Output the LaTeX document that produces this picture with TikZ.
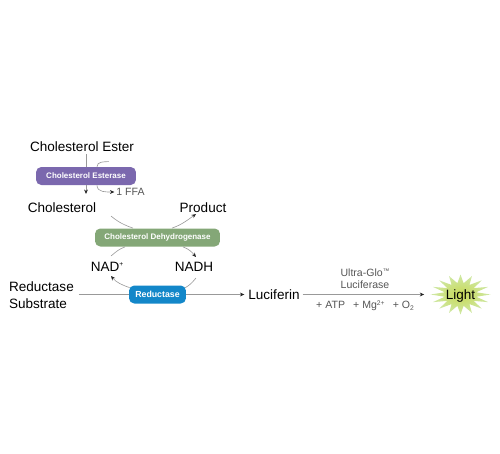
\documentclass[tikz,border=0pt]{standalone}
\usepackage{fontspec}
\setmainfont{Liberation Sans}
\usetikzlibrary{arrows.meta, positioning, calc}
\definecolor{esterasecol}{HTML}{7B68AE}
\definecolor{dehydrocol}{HTML}{84A777}
\definecolor{reductasecol}{HTML}{1387C9}
\definecolor{linecol}{HTML}{999999}
\definecolor{textgray}{HTML}{555555}
\definecolor{burstin}{HTML}{C8DA55}
\definecolor{burstout}{HTML}{CFE8A8}
\newcommand{\supr}[1]{\raisebox{0.62ex}{\fontsize{3.8}{4}\selectfont #1}}
\newcommand{\subr}[1]{\raisebox{-0.35ex}{\fontsize{3.8}{4}\selectfont #1}}
\begin{document}
\begin{tikzpicture}[
  x=0.02cm, y=-0.02cm,
  enzyme/.style={rounded corners=3pt, text=white, inner sep=0pt,
                 minimum height=0.36cm, font=\fontsize{4.55}{6}\selectfont\bfseries},
  chem/.style={font=\fontsize{7.7}{9.4}\selectfont, text=black, inner sep=1pt},
  cond/.style={font=\fontsize{6}{6.6}\selectfont, text=textgray, inner sep=1pt, align=center},
  arrow/.style={-{Stealth[length=2.5pt,width=2.2pt,color=black!85]}, linecol, line width=0.35pt},
  plain/.style={linecol, line width=0.35pt}
]
\useasboundingbox (0,0) rectangle (500,453);

% light burst
\shade[inner color=burstin, outer color=burstout, draw=none]
  plot[samples at={0,...,31}] ({460.5+(mod(\x,2)==0 ? 30 : 16)*cos(\x*11.25)},
                               {294.5+(mod(\x,2)==0 ? 20 : 11.5)*sin(\x*11.25)}) -- cycle;

% chemicals
\node[chem] (ester) at (82,147) {Cholesterol Ester};
\node[chem] (chol)  at (62,208) {Cholesterol};
\node[chem] (prod)  at (203,208) {Product};
\node[chem] (nad)   at (107,266.5) {NAD\supr{+}};
\node[chem] (nadh)  at (194,266.5) {NADH};
\node[chem, align=left, anchor=west] (subs) at (7,295) {Reductase\\Substrate};
\node[chem] (luci)  at (274,295) {Luciferin};
\node[chem, minimum width=1.44cm] (light) at (460.5,295.5) {Light};

% enzymes
\node[enzyme, fill=esterasecol, minimum width=2cm] (esterase) at (86,176) {Cholesterol Esterase};
\node[enzyme, fill=dehydrocol, minimum width=2.5cm] (dehydro) at (157.5,237.5) {Cholesterol Dehydrogenase};
\node[enzyme, fill=reductasecol, minimum width=1.14cm, font=\fontsize{5}{6}\selectfont\bfseries] (reductase) at (157.5,294.5) {Reductase};

% conditions
\node[cond] (ffa) at (130.5,192) {1 FFA};
\node[cond] (glo) at (365,278.5) {Ultra-Glo\supr{™}\\Luciferase};
\node[cond] (cof) at (365,306) {+ ATP\enspace\ + Mg\supr{2+}\enspace\ + O\subr{2}};

% free ends of the curves
\coordinate (cholout) at (111,216);
\coordinate (nadup)   at (111,256);
\coordinate (naddown) at (111,276);
\coordinate (nadhup)  at (196,257);
\coordinate (nadhdown) at (196,278);

% connectors
\draw[plain] (esterase.north |- ester.south) -- (esterase.north);
\draw[arrow] (esterase.south) -- ([yshift=0.14cm]esterase.south |- chol.north);
\draw[plain] ([xshift=0.46cm,yshift=0.1cm]esterase.north) to[out=180,in=90] ([xshift=0.22cm]esterase.north);
\draw[arrow] ([xshift=0.22cm]esterase.south) to[out=-90,in=180] (ffa.west);
\draw[plain] (cholout) to[out=-40,in=160] ([xshift=-0.49cm]dehydro.north);
\draw[arrow] ([xshift=0.29cm]dehydro.north) to[out=20,in=215] ([xshift=-0.14cm,yshift=0.02cm]prod.south);
\draw[plain] ([xshift=-0.65cm]dehydro.south) to[out=200,in=40] (nadup);
\draw[arrow] ([xshift=0.51cm]dehydro.south) to[out=-20,in=130] (nadhup);
\draw[plain] (nadhdown) to[out=-130,in=30] ([xshift=-0.02cm,yshift=-0.05cm]reductase.north east);
\draw[arrow] ([xshift=0.02cm,yshift=-0.05cm]reductase.north west) to[out=160,in=-50] (naddown);
\draw[plain, shorten <=0.06cm] (subs.east |- reductase.west) -- (reductase.west);
\draw[arrow] (reductase.east) -- ([xshift=-0.04cm]luci.west |- reductase.east);
\draw[arrow] ([xshift=0.02cm]luci.east |- reductase.east) -- (reductase.east -| light.west);
\end{tikzpicture}
\end{document}
